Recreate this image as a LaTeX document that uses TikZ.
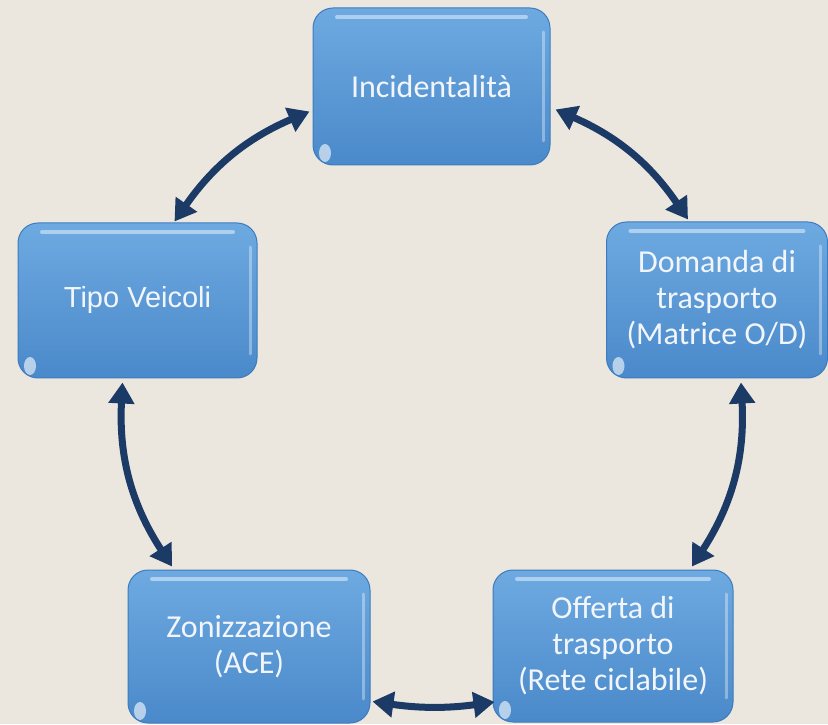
\documentclass[tikz,border=0pt]{standalone}
\usepackage{fontspec}
\setmainfont{Carlito}
\newfontfamily\arialfont{Liberation Sans}
\usetikzlibrary{arrows.meta,shadings}
\definecolor{bgc}{HTML}{EBE7DF}
\definecolor{boxtop}{HTML}{6EAAE1}
\definecolor{boxbot}{HTML}{4A89CA}
\definecolor{boxline}{HTML}{3C7CBE}
\definecolor{navy}{HTML}{1C3A66}
\definecolor{txt}{HTML}{F2F6FB}
\tikzset{
  box/.style={rectangle, rounded corners=20pt, top color=boxtop, bottom color=boxbot,
    draw=boxline, line width=1pt, text=txt, align=center, inner sep=0pt,
    font=\fontsize{32}{36}\selectfont,
    path picture={
      \draw[white, opacity=0.45, line width=4pt, line cap=round]
        ([shift={(24pt,-9pt)}]path picture bounding box.north west) --
        ([shift={(-24pt,-9pt)}]path picture bounding box.north east);
      \draw[white, opacity=0.35, line width=3pt, line cap=round]
        ([shift={(-7pt,-24pt)}]path picture bounding box.north east) --
        ([shift={(-7pt,24pt)}]path picture bounding box.south east);
      \fill[white, opacity=0.6]
        ([shift={(12pt,12pt)}]path picture bounding box.south west) ellipse (6pt and 9pt);
    }},
  arr/.style={draw=navy, line width=7pt, {Triangle[length=21pt,width=25pt]}-{Triangle[length=21pt,width=25pt]}}
}
\begin{document}
\begin{tikzpicture}[x=1pt,y=1pt]
\fill[bgc] (0,0) rectangle (828,724);
\useasboundingbox (0,0) rectangle (828,724);
\node[box, minimum width=237pt, minimum height=157pt] (inc) at (431.5,637.5) {Incidentalità};
\node[box, minimum width=221pt, minimum height=156pt] (dom) at (717,424) {Domanda di\\trasporto\\(Matrice O/D)};
\node[box, minimum width=239pt, minimum height=155pt, font=\arialfont\fontsize{29}{34}\selectfont] (tipo) at (137.5,423.5) {Tipo Veicoli};
\node[box, minimum width=242pt, minimum height=153pt] (zon) at (249,77.5) {Zonizzazione\\(ACE)};
\node[box, minimum width=240pt, minimum height=152pt] (off) at (613,78) {Offerta di\\trasporto\\(Rete ciclabile)};
\draw[arr] ([shift={(-3pt,-25pt)}]inc.west) to[bend right=16] ([shift={(37pt,1pt)}]tipo.north);
\draw[arr] ([shift={(5pt,-23pt)}]inc.east) to[bend left=16] ([shift={(-29pt,2pt)}]dom.north);
\draw[arr] ([shift={(24pt,-4pt)}]dom.south) to[bend left=18] ([shift={(79pt,3pt)}]off.north);
\draw[arr] ([shift={(-15pt,-4pt)}]tipo.south) to[bend right=18] ([shift={(-77pt,3pt)}]zon.north);
\draw[arr] ([shift={(2pt,-55pt)}]zon.east) to[bend right=8] ([shift={(2pt,-56pt)}]off.west);
\end{tikzpicture}
\end{document}
